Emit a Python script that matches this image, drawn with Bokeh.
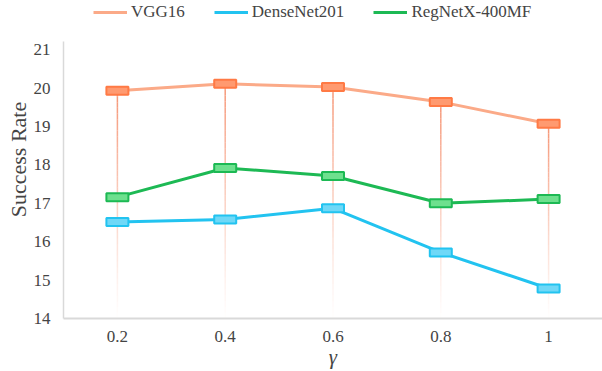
from bokeh.plotting import figure
from bokeh.models import Range1d, Legend, LegendItem, FixedTicker
from bokeh.embed import file_html
from bokeh.resources import INLINE

gammas = [0.2, 0.4, 0.6, 0.8, 1.0]
tick_labels = ["0.2", "0.4", "0.6", "0.8", "1"]
vgg16 = [19.93, 20.11, 20.03, 19.64, 19.07]
densenet201 = [16.51, 16.58, 16.87, 15.72, 14.78]
regnet = [17.16, 17.92, 17.71, 17.00, 17.11]

FONT = "Liberation Serif"

p = figure(width=602, height=371, output_backend="svg", toolbar_location=None,
           x_range=Range1d(0.1, 1.1), y_range=Range1d(14, 22.28),
           min_border_left=63, min_border_right=0, min_border_top=0, min_border_bottom=52)
p.outline_line_color = None
p.xgrid.visible = False
p.ygrid.visible = False

# fading drop lines from VGG16 points
N = 40
base = 14.0
for xv, yv in zip(gammas, vgg16):
    for i in range(N):
        y0 = yv - (yv - base) * i / N
        y1 = yv - (yv - base) * (i + 1) / N
        a = 0.85 * (1 - i / N) ** 1.2
        p.segment(x0=[xv], y0=[y0], x1=[xv], y1=[y1], line_color="#F4845F",
                  line_alpha=a, line_width=1.5)

series = [
    ("VGG16", vgg16, "#FBAA88", "#FF7A45", "#FF9A70"),
    ("DenseNet201", densenet201, "#22C3F0", "#22C3F0", "#6FD8F7"),
    ("RegNetX-400MF", regnet, "#1DB954", "#1DB954", "#6EE08E"),
]
items = []
for name, vals, lc, mc, mf in series:
    l = p.line(gammas, vals, line_color=lc, line_width=3)
    r = p.rect(gammas, vals, width=22, height=8, width_units="screen", height_units="screen",
               fill_color=mf, line_color=mc, line_width=2)
    items.append(LegendItem(label=name, renderers=[l]))

legend = Legend(items=items, orientation="horizontal", location=(30, 296),
                border_line_color=None, background_fill_alpha=0,
                label_text_font=FONT, label_text_font_size="17px",
                glyph_width=34, glyph_height=12, spacing=29, padding=0, margin=0,
                label_standoff=4)
p.add_layout(legend, "center")

xax = p.xaxis[0]
yax = p.yaxis[0]

xax.ticker = FixedTicker(ticks=gammas)
xax.major_label_overrides = {g: t for g, t in zip(gammas, tick_labels)}
xax.axis_line_color = "#D9D9D9"
xax.axis_line_width = 2
xax.major_tick_line_color = None
xax.minor_tick_line_color = None
xax.major_label_text_font = FONT
xax.major_label_text_font_size = "17px"
xax.major_label_standoff = 6
xax.axis_label = "γ"
xax.axis_label_text_font = FONT
xax.axis_label_text_font_style = "italic"
xax.axis_label_text_font_size = "21px"
xax.axis_label_standoff = 0

yax.ticker = FixedTicker(ticks=[14, 15, 16, 17, 18, 19, 20, 21])
yax.bounds = (14, 21.2)
yax.axis_line_color = "#D9D9D9"
yax.axis_line_width = 1.5
yax.major_tick_line_color = None
yax.minor_tick_line_color = None
yax.major_label_text_font = FONT
yax.major_label_text_font_size = "17px"
yax.major_label_standoff = 7
yax.axis_label = "Success Rate"
yax.axis_label_text_font = FONT
yax.axis_label_text_font_style = "normal"
yax.axis_label_text_font_size = "22px"
yax.axis_label_standoff = 0

open("out.html", "w").write(file_html(p, INLINE))
